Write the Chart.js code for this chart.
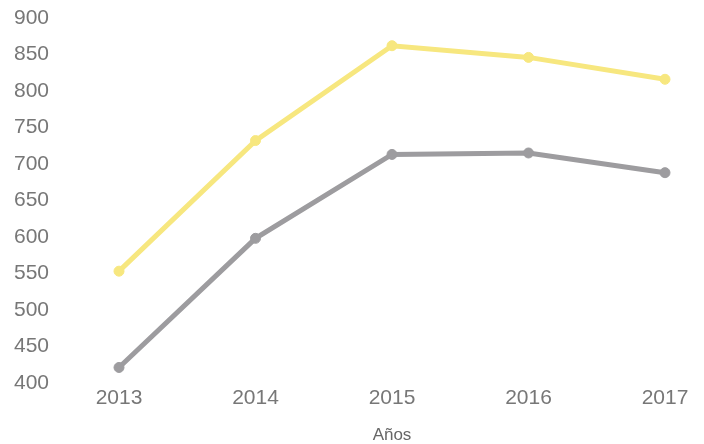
<!DOCTYPE html>
<html>
<head>
<meta charset="utf-8">
<script src="https://cdn.jsdelivr.net/npm/chart.js@4/dist/chart.umd.min.js"></script>
<style>
html,body{margin:0;padding:0;background:#fff;}
#wrap{width:704px;height:444px;}
</style>
</head>
<body>
<div id="wrap"><canvas id="c" width="704" height="444"></canvas></div>
<script>
const categories = ["2013", "2014", "2015", "2016", "2017"];
const seriesYellow = [553, 732, 862, 846, 816];
const seriesGray = [421, 598, 713, 715, 688];
const yTicks = [400, 450, 500, 550, 600, 650, 700, 750, 800, 850, 900];
const xTitle = "Años";

new Chart(document.getElementById('c'), {
  type: 'line',
  data: {
    labels: categories,
    datasets: [
      {data: seriesYellow, borderColor: '#f7e77f', backgroundColor: '#f7e77f', borderWidth: 5, pointRadius: 5, pointBorderWidth: 1, pointHoverRadius: 5, tension: 0},
      {data: seriesGray, borderColor: '#9d9c9f', backgroundColor: '#9d9c9f', borderWidth: 5, pointRadius: 5, pointBorderWidth: 1, pointHoverRadius: 5, tension: 0}
    ]
  },
  options: {
    responsive: false,
    animation: false,
    devicePixelRatio: 1,
    layout: {padding: {left: 14, right: 39, top: 18, bottom: 0}},
    plugins: {legend: {display: false}, tooltip: {enabled: false}},
    scales: {
      x: {
        offset: false,
        grid: {display: false, drawTicks: false},
        border: {display: false},
        ticks: {color: '#777', font: {family: 'Liberation Sans', size: 21}, padding: 3, maxRotation: 0},
        title: {display: true, text: xTitle, color: '#666', font: {family: 'Liberation Sans', size: 17, lineHeight: 1.0}, padding: {top: 13, bottom: 0}}
      },
      y: {
        min: 400, max: 900,
        afterBuildTicks: s => { s.ticks = yTicks.map(v => ({value: v})); },
        afterFit: s => { s.width = 105; },
        grid: {display: false, drawTicks: false},
        border: {display: false},
        ticks: {color: '#777', font: {family: 'Liberation Sans', size: 21}, crossAlign: 'far', padding: 0}
      }
    }
  }
});
</script>
</body>
</html>
